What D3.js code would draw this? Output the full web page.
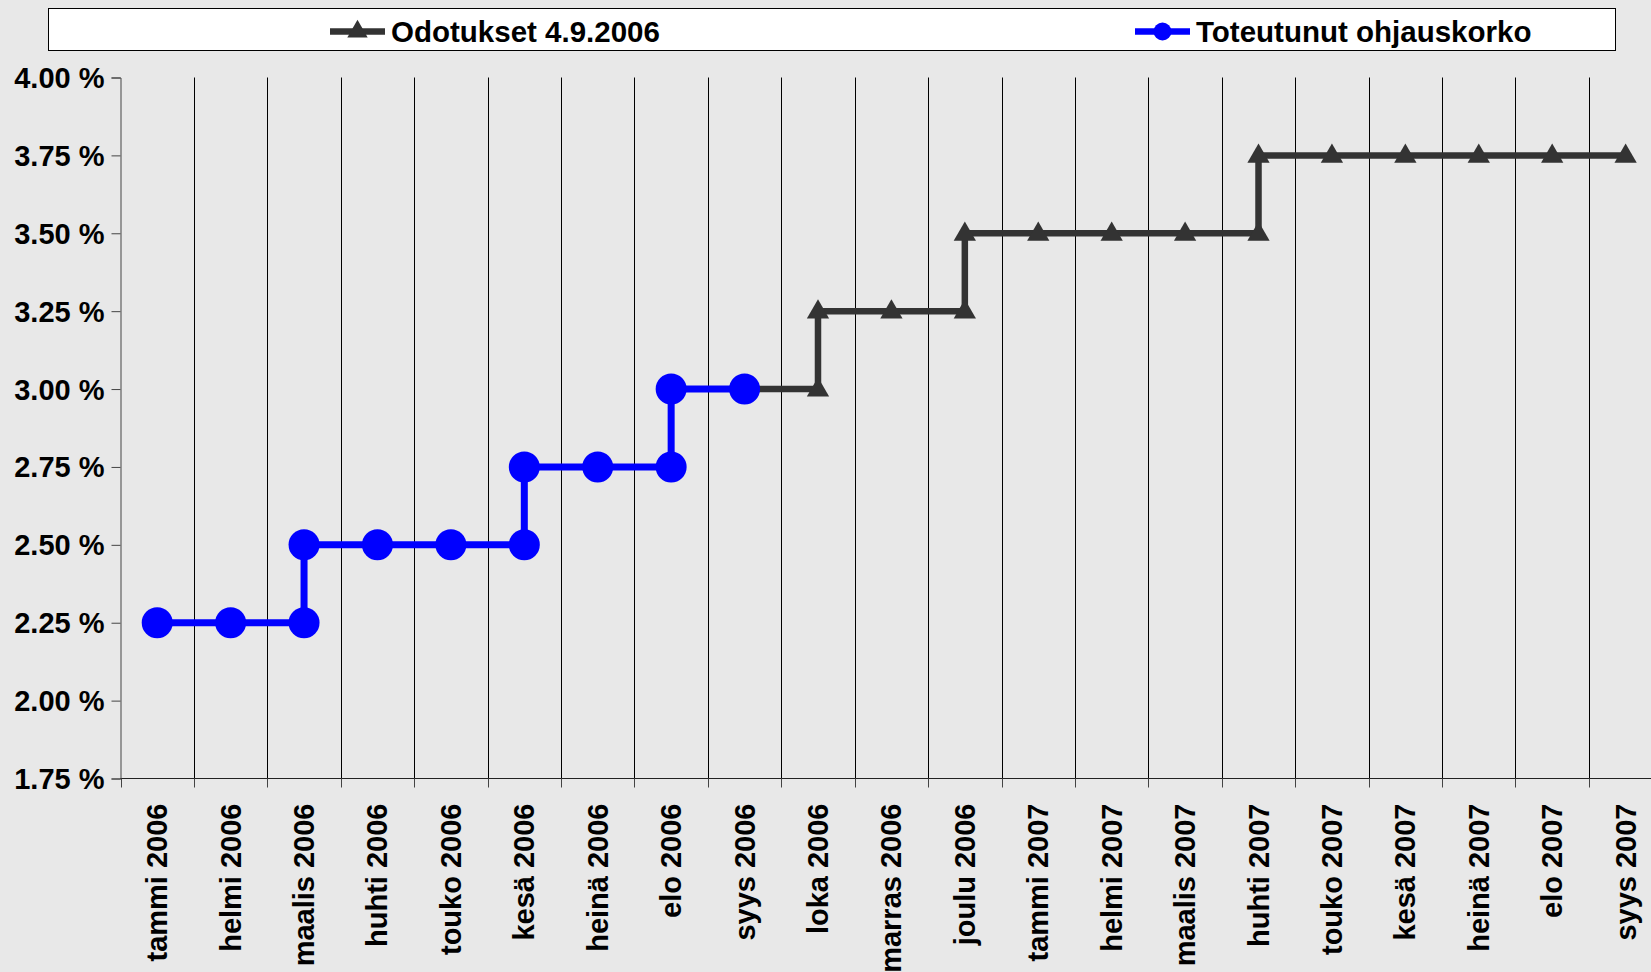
<!DOCTYPE html>
<html>
<head>
<meta charset="utf-8">
<script src="https://cdn.jsdelivr.net/npm/d3@7"></script>
<style>
    html, body { margin: 0; padding: 0; background: #e8e8e8; overflow: hidden; }
    svg { display: block; font-family: "Liberation Sans", Arial, sans-serif; font-weight: bold; }
</style>
</head>
<body>
<svg id="chart" width="1651" height="972"></svg>
<script>
// months on the x axis
const months = [
    "tammi 2006", "helmi 2006", "maalis 2006", "huhti 2006", "touko 2006", "kesä 2006",
    "heinä 2006", "elo 2006", "syys 2006", "loka 2006", "marras 2006", "joulu 2006",
    "tammi 2007", "helmi 2007", "maalis 2007", "huhti 2007", "touko 2007", "kesä 2007",
    "heinä 2007", "elo 2007", "syys 2007"
];

const yTicks = [1.75, 2.00, 2.25, 2.50, 2.75, 3.00, 3.25, 3.50, 3.75, 4.00];

// Toteutunut ohjauskorko (a month appears twice where the rate steps)
const actualMonths = [
    "tammi 2006", "helmi 2006", "maalis 2006", "maalis 2006", "huhti 2006", "touko 2006",
    "kesä 2006", "kesä 2006", "heinä 2006", "elo 2006", "elo 2006", "syys 2006"
];
const actualRates = [2.25, 2.25, 2.25, 2.50, 2.50, 2.50, 2.50, 2.75, 2.75, 2.75, 3.00, 3.00];

// Odotukset 4.9.2006
const expectedMonths = [
    "syys 2006", "loka 2006", "loka 2006", "marras 2006", "joulu 2006", "joulu 2006",
    "tammi 2007", "helmi 2007", "maalis 2007", "huhti 2007", "huhti 2007", "touko 2007",
    "kesä 2007", "heinä 2007", "elo 2007", "syys 2007"
];
const expectedRates = [3.00, 3.00, 3.25, 3.25, 3.25, 3.50, 3.50, 3.50, 3.50, 3.50, 3.75, 3.75,
    3.75, 3.75, 3.75, 3.75];

const seriesNames = ["Odotukset 4.9.2006", "Toteutunut ohjauskorko"];

const svg = d3.select("#chart");
const plotLeft = 120.5, plotTop = 77.5, plotBottom = 778.5, bandWidth = 73.42;

const x = d3.scaleBand()
    .domain(months)
    .range([plotLeft, plotLeft + bandWidth * months.length]);
const y = d3.scaleLinear()
    .domain([1.75, 4.00])
    .range([plotBottom, plotTop]);

const cx = m => x(m) + x.bandwidth() / 2;

// vertical gridlines between the months
svg.append("g")
    .selectAll("line")
    .data(months.slice(1))
    .join("line")
        .attr("x1", d => Math.round(x(d)) + 0.5)
        .attr("x2", d => Math.round(x(d)) + 0.5)
        .attr("y1", plotTop)
        .attr("y2", plotBottom)
        .attr("stroke", "#000")
        .attr("stroke-width", 1);

// y axis
const yAxis = svg.append("g")
    .attr("transform", `translate(${plotLeft},0)`)
    .call(d3.axisLeft(y).tickValues(yTicks).tickSize(9).tickFormat(d => d3.format(".2f")(d) + " %"));
yAxis.select(".domain").attr("stroke", "#444");
yAxis.selectAll(".tick line").attr("stroke", "#444");
yAxis.selectAll(".tick text")
    .attr("x", -16)
    .attr("dy", 10)
    .attr("text-anchor", "end")
    .attr("fill", "#000")
    .style("font-size", "29px");

// x axis
const xAxis = svg.append("g")
    .attr("transform", `translate(0,${plotBottom})`);
xAxis.append("line")
    .attr("x1", plotLeft)
    .attr("x2", 1651)
    .attr("stroke", "#222");
xAxis.selectAll("line.tick")
    .data(months)
    .join("line")
        .attr("class", "tick")
        .attr("x1", d => Math.round(x(d)) + 0.5)
        .attr("x2", d => Math.round(x(d)) + 0.5)
        .attr("y1", 0)
        .attr("y2", 9)
        .attr("stroke", "#444");
xAxis.selectAll("text")
    .data(months)
    .join("text")
        .attr("transform", d => `translate(${cx(d) + 10},25) rotate(-90)`)
        .attr("text-anchor", "end")
        .style("font-size", "29px")
        .text(d => d);

const line = d3.line()
    .x(d => cx(d.month))
    .y(d => y(d.rate));

const expected = expectedMonths.map((m, i) => ({month: m, rate: expectedRates[i]}));
const actual = actualMonths.map((m, i) => ({month: m, rate: actualRates[i]}));

const triangle = d3.symbol().type(d3.symbolTriangle).size(215);

// expected path, grey with triangles
svg.append("path")
    .datum(expected)
    .attr("d", line)
    .attr("fill", "none")
    .attr("stroke", "#333")
    .attr("stroke-width", 6.5);
svg.append("g")
    .selectAll("path")
    .data(expected)
    .join("path")
        .attr("d", triangle)
        .attr("transform", d => `translate(${cx(d.month)},${y(d.rate) + 1})`)
        .attr("fill", "#333");

// realized rate, blue with circles
svg.append("path")
    .datum(actual)
    .attr("d", line)
    .attr("fill", "none")
    .attr("stroke", "#0000ff")
    .attr("stroke-width", 7);
svg.append("g")
    .selectAll("circle")
    .data(actual)
    .join("circle")
        .attr("cx", d => cx(d.month))
        .attr("cy", d => y(d.rate))
        .attr("r", 15.5)
        .attr("fill", "#0000ff");

// legend
const legend = svg.append("g");
legend.append("rect")
    .attr("x", 48.5)
    .attr("y", 8.5)
    .attr("width", 1567)
    .attr("height", 42)
    .attr("fill", "#fff")
    .attr("stroke", "#000");

const legendItems = legend.selectAll("g")
    .data(seriesNames)
    .join("g")
        .attr("transform", (d, i) => `translate(${i === 0 ? 330 : 1135},31.5)`);
legendItems.append("line")
    .attr("x1", 0)
    .attr("x2", 55)
    .attr("stroke", (d, i) => i === 0 ? "#333" : "#0000ff")
    .attr("stroke-width", 6.5);
legendItems.filter((d, i) => i === 0)
    .append("path")
    .attr("d", d3.symbol().type(d3.symbolTriangle).size(180))
    .attr("transform", "translate(27.5,0)")
    .attr("fill", "#333");
legendItems.filter((d, i) => i === 1)
    .append("circle")
    .attr("cx", 27.5)
    .attr("r", 9)
    .attr("fill", "#0000ff");
legendItems.append("text")
    .attr("x", 61)
    .attr("y", 10)
    .style("font-size", "29.5px")
    .text(d => d);
</script>
</body>
</html>
